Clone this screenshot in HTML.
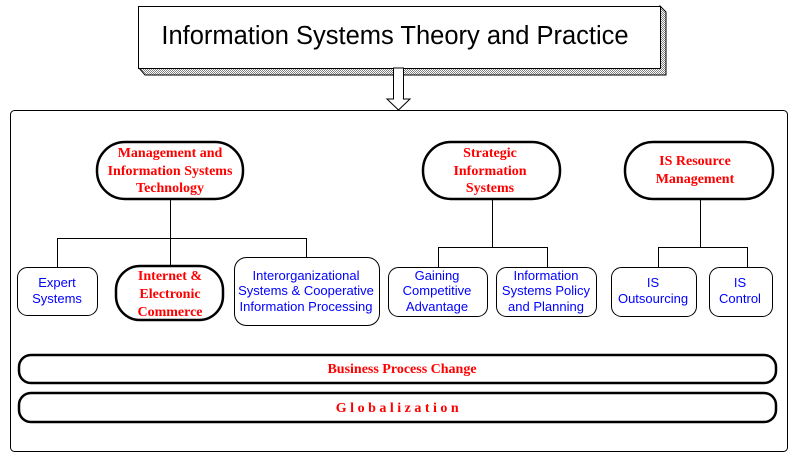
<!DOCTYPE html>
<html><head><meta charset="utf-8"><style>
html,body{margin:0;padding:0;background:#fff;width:800px;height:463px;overflow:hidden}
svg{display:block}
.r{font-family:"Liberation Serif",serif;font-weight:bold;font-size:14px;fill:#ff0000;text-anchor:middle}
.b{font-family:"Liberation Sans",sans-serif;font-size:13px;fill:#0000ff;text-anchor:middle}
</style></head><body>
<svg width="800" height="463" viewBox="0 0 800 463" xmlns="http://www.w3.org/2000/svg">
<defs><pattern id="dots" width="2" height="2" patternUnits="userSpaceOnUse"><rect width="2" height="2" fill="#fff"/><rect width="1" height="1" fill="#808080"/><rect x="1" y="1" width="1" height="1" fill="#808080"/></pattern></defs>
<polygon points="139,68 145,75 666,75 666,12 660,6 660,68" fill="url(#dots)" stroke="#000" stroke-width="1"/>
<rect x="138.5" y="6.5" width="522" height="62" fill="#fff" stroke="#000"/>
<text x="395" y="44" font-family="Liberation Sans,sans-serif" font-size="25.5" text-anchor="middle">Information Systems Theory and Practice</text>
<polygon points="393.5,68 403.5,68 403.5,99 410,99 398.5,110 387,99 393.5,99" fill="#fff" stroke="#000"/>
<rect x="10.5" y="110.5" width="777" height="341" rx="4" fill="none" stroke="#000"/>
<g stroke="#000" stroke-width="1" fill="none">
<path d="M170.5 199V238.5M57.5 267V238.5H306.5V257M170.5 238.5V266"/>
<path d="M492.5 199V247.5M438.5 267V247.5H547.5V267"/>
<path d="M700.5 199V247.5M658.5 267V247.5H747.5V267"/>
</g>
<g fill="#fff" stroke="#000" stroke-width="2.5">
<rect x="97" y="142" width="146" height="57" rx="28"/>
<rect x="423" y="142" width="137" height="57" rx="28"/>
<rect x="625" y="142" width="148" height="57" rx="28"/>
<rect x="116" y="266" width="107" height="54" rx="24"/>
<rect x="19" y="355" width="757" height="28" rx="12"/>
<rect x="19" y="393" width="757" height="29" rx="12"/>
</g>
<g fill="#fff" stroke="#000" stroke-width="1">
<rect x="17.5" y="267.5" width="80" height="48" rx="10"/>
<rect x="234.5" y="257.5" width="145" height="68" rx="12"/>
<rect x="388.5" y="267.5" width="99" height="49" rx="10"/>
<rect x="496.5" y="267.5" width="100" height="49" rx="10"/>
<rect x="611.5" y="267.5" width="85" height="49" rx="10"/>
<rect x="709.5" y="267.5" width="63" height="49" rx="10"/>
</g>
<text class="r"><tspan x="170" y="157">Management and</tspan><tspan x="170" y="175">Information Systems</tspan><tspan x="170" y="192">Technology</tspan></text>
<text class="r"><tspan x="490" y="157">Strategic</tspan><tspan x="490" y="175">Information</tspan><tspan x="490" y="192">Systems</tspan></text>
<text class="r"><tspan x="695" y="165">IS Resource</tspan><tspan x="695" y="183">Management</tspan></text>
<text class="r"><tspan x="170" y="280">Internet &amp;</tspan><tspan x="170" y="298">Electronic</tspan><tspan x="170" y="316">Commerce</tspan></text>
<text class="b"><tspan x="57" y="287">Expert</tspan><tspan x="57" y="303">Systems</tspan></text>
<text class="b"><tspan x="306" y="280">Interorganizational</tspan><tspan x="306" y="295">Systems &amp; Cooperative</tspan><tspan x="306" y="311">Information Processing</tspan></text>
<text class="b"><tspan x="437" y="280">Gaining</tspan><tspan x="437" y="295">Competitive</tspan><tspan x="437" y="311">Advantage</tspan></text>
<text class="b"><tspan x="546" y="280">Information</tspan><tspan x="546" y="295">Systems Policy</tspan><tspan x="546" y="311">and Planning</tspan></text>
<text class="b"><tspan x="653" y="287">IS</tspan><tspan x="653" y="303">Outsourcing</tspan></text>
<text class="b"><tspan x="740" y="287">IS</tspan><tspan x="740" y="303">Control</tspan></text>
<text class="r" x="402" y="373" font-size="14">Business Process Change</text>
<text class="r" x="399" y="412" font-size="14" letter-spacing="3.5">Globalization</text>
</svg>
</body></html>
